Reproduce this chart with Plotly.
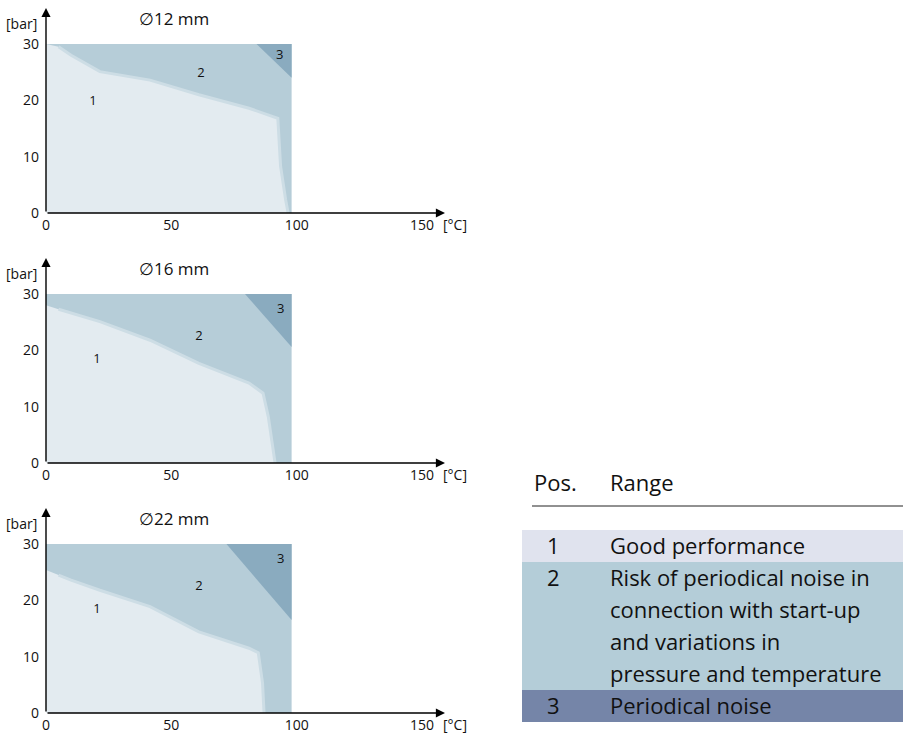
import plotly.graph_objects as go

W, H = 903, 734

# ---------------- data ----------------
diameters = ["∅12 mm", "∅16 mm", "∅22 mm"]
x_ticks = [0, 50, 100, 150]
y_ticks = [0, 10, 20, 30]
t_max = 98    # °C  right edge of the shaded field
p_max = 30    # bar top edge of the shaded field

# boundary between range 1 and range 2 (temperature °C / pressure bar)
b12_t = [
    [0, 5, 10, 21.5, 41.5, 61, 81, 92.5, 93.6, 95.6, 96.6],
    [0, 5, 10, 21.5, 41.5, 61, 81, 86.6, 88.7, 90.7, 91.4],
    [0, 5, 10, 21.5, 41.5, 61, 81, 84.7, 86.4, 87.0],
]
b12_p = [
    [30, 29.5, 28, 25.1, 23.6, 21.0, 18.6, 16.8, 8.3, 2.4, 0],
    [28, 27.3, 26.6, 25.1, 21.8, 17.7, 14.2, 12.4, 8.2, 2.4, 0],
    [25.4, 24.5, 23.6, 21.8, 18.9, 14.4, 11.5, 10.7, 5.3, 0],
]
# range 3 corner: temperature where it meets the top, pressure where it meets the right edge
r3_t_top = [84, 79.4, 72]
r3_p_right = [24, 20.6, 16.5]

# label positions (temperature, pressure) for "1", "2", "3"
lab_names = ["1", "2", "3"]
lab_t = [[18.7, 61.8, 93.3], [20.3, 61, 93.7], [20.3, 61, 93.7]]
lab_p = [[19.7, 24.7, 27.9], [18.3, 22.5, 27.2], [18.3, 22.5, 27.2]]

region_colors = ["#e3ebf0", "#b6cdd8", "#8aabbf"]
edge_color = "#cddde5"

table_header = ["Pos.", "Range"]
table_pos = ["1", "2", "3"]
table_range = [
    ["Good performance"],
    ["Risk of periodical noise in", "connection with start-up",
     "and variations in", "pressure and temperature"],
    ["Periodical noise"],
]
table_colors = ["#e0e3ee", "#b4cdd8", "#7585a8"]

# ---------------- layout geometry (pixels) ----------------
x_left_px, x_right_px = 46, 445
x_range = [0, 159.2]
y_range = [0, 36.4]
panel_bottom_px = [213, 463, 713]
panel_top_px = [8, 258, 508]

FONT = "Open Sans, Noto Sans, sans-serif"

fig = go.Figure()
annotations = []
shapes = []
layout = {}

for i in range(3):
    sfx = "" if i == 0 else str(i + 1)
    xa, ya = "x" + sfx, "y" + sfx
    # range 2: whole field
    fig.add_trace(go.Scatter(
        x=[0, t_max, t_max, 0], y=[0, 0, p_max, p_max], xaxis=xa, yaxis=ya,
        fill="toself", fillcolor=region_colors[1], mode="lines",
        line=dict(width=0), hoverinfo="skip", showlegend=False))
    # range 3
    fig.add_trace(go.Scatter(
        x=[r3_t_top[i], t_max, t_max, r3_t_top[i]],
        y=[p_max, p_max, r3_p_right[i], p_max], xaxis=xa, yaxis=ya,
        fill="toself", fillcolor=region_colors[2], mode="lines",
        line=dict(width=0), hoverinfo="skip", showlegend=False))
    # range 1 (with a softened edge)
    fig.add_trace(go.Scatter(
        x=[0] + b12_t[i] + [0], y=[0] + b12_p[i] + [0], xaxis=xa, yaxis=ya,
        fill="toself", fillcolor=region_colors[0], mode="lines",
        line=dict(width=0), hoverinfo="skip", showlegend=False))
    fig.add_trace(go.Scatter(
        x=b12_t[i][1:], y=b12_p[i][1:], xaxis=xa, yaxis=ya, mode="lines",
        line=dict(width=3, color=edge_color),
        hoverinfo="skip", showlegend=False))
    # region labels
    fig.add_trace(go.Scatter(
        x=lab_t[i], y=lab_p[i], text=lab_names, mode="text", xaxis=xa, yaxis=ya,
        textfont=dict(size=13, color="#111", family=FONT),
        hoverinfo="skip", showlegend=False))

    y0 = 1 - panel_bottom_px[i] / H
    y1 = 1 - panel_top_px[i] / H
    layout["xaxis" + sfx] = dict(
        domain=[x_left_px / W, x_right_px / W], range=x_range, anchor=ya,
        tickvals=x_ticks, showgrid=False, zeroline=False, showline=False,
        ticks="", ticklabelstandoff=2, automargin=False,
        tickfont=dict(size=14, color="#111", family=FONT), fixedrange=True)
    layout["yaxis" + sfx] = dict(
        domain=[y0, y1], range=y_range, anchor=xa,
        tickvals=y_ticks, showgrid=False, zeroline=False, showline=False,
        ticks="", ticklabelstandoff=6, automargin=False,
        tickfont=dict(size=14, color="#111", family=FONT), fixedrange=True)

    # axis arrows
    annotations.append(dict(x=x_range[1], y=0, ax=0, ay=0, xref=xa, yref=ya,
                            axref=xa, ayref=ya, text="", showarrow=True,
                            arrowhead=2, arrowsize=1.3, arrowwidth=1.4,
                            arrowcolor="#000"))
    annotations.append(dict(x=0, y=y_range[1], ax=0, ay=0, xref=xa, yref=ya,
                            axref=xa, ayref=ya, text="", showarrow=True,
                            arrowhead=2, arrowsize=1.3, arrowwidth=1.4,
                            arrowcolor="#000"))
    # units
    annotations.append(dict(x=39 / W, xref="paper", xanchor="right",
                            y=33.7, yref=ya, yanchor="middle", text="[bar]",
                            showarrow=False,
                            font=dict(size=14, color="#111", family=FONT)))
    annotations.append(dict(x=157.5, xref=xa, xanchor="left",
                            y=0, yref=ya, yanchor="middle", yshift=-11,
                            text="[°C]", showarrow=False,
                            font=dict(size=14, color="#111", family=FONT)))
    # title
    annotations.append(dict(x=51, xref=xa, xanchor="center",
                            y=34.6, yref=ya, yanchor="middle", text=diameters[i],
                            showarrow=False,
                            font=dict(size=17, color="#111", family=FONT)))

# ---------------- table ----------------
def px_x(v):
    return v / W


def px_y(v):
    return 1 - v / H


TFONT = dict(size=22, color="#111", family=FONT)
annotations.append(dict(x=px_x(532), y=px_y(482), xref="paper", yref="paper",
                        xanchor="left", yanchor="middle", text=table_header[0],
                        showarrow=False, font=TFONT))
annotations.append(dict(x=px_x(608), y=px_y(482), xref="paper", yref="paper",
                        xanchor="left", yanchor="middle", text=table_header[1],
                        showarrow=False, font=TFONT))
shapes.append(dict(type="line", xref="paper", yref="paper",
                   x0=px_x(532), x1=1, y0=px_y(506), y1=px_y(506),
                   line=dict(color="#222", width=1)))

row_top = 530
line_h = 32
for k in range(len(table_pos)):
    n = len(table_range[k])
    top, bot = row_top, row_top + n * line_h
    shapes.append(dict(type="rect", xref="paper", yref="paper",
                       x0=px_x(522), x1=1, y0=px_y(bot), y1=px_y(top),
                       fillcolor=table_colors[k], line=dict(width=0),
                       layer="below"))
    annotations.append(dict(x=px_x(553), y=px_y(top + line_h / 2 - 1),
                            xref="paper", yref="paper", xanchor="center",
                            yanchor="middle", text=table_pos[k],
                            showarrow=False, font=TFONT))
    for j, line in enumerate(table_range[k]):
        annotations.append(dict(x=px_x(608), y=px_y(top + j * line_h + line_h / 2 - 1),
                                xref="paper", yref="paper", xanchor="left",
                                yanchor="middle", text=line,
                                showarrow=False, font=TFONT))
    row_top = bot

fig.update_layout(
    width=W, height=H, margin=dict(l=0, r=0, t=0, b=0),
    paper_bgcolor="white", plot_bgcolor="rgba(0,0,0,0)",
    annotations=annotations, shapes=shapes, showlegend=False,
    **layout)

fig.write_html(
    "out.html",
    config={"displayModeBar": False, "staticPlot": True},
    post_script="document.body.style.margin='0';document.body.style.overflow='hidden';")
